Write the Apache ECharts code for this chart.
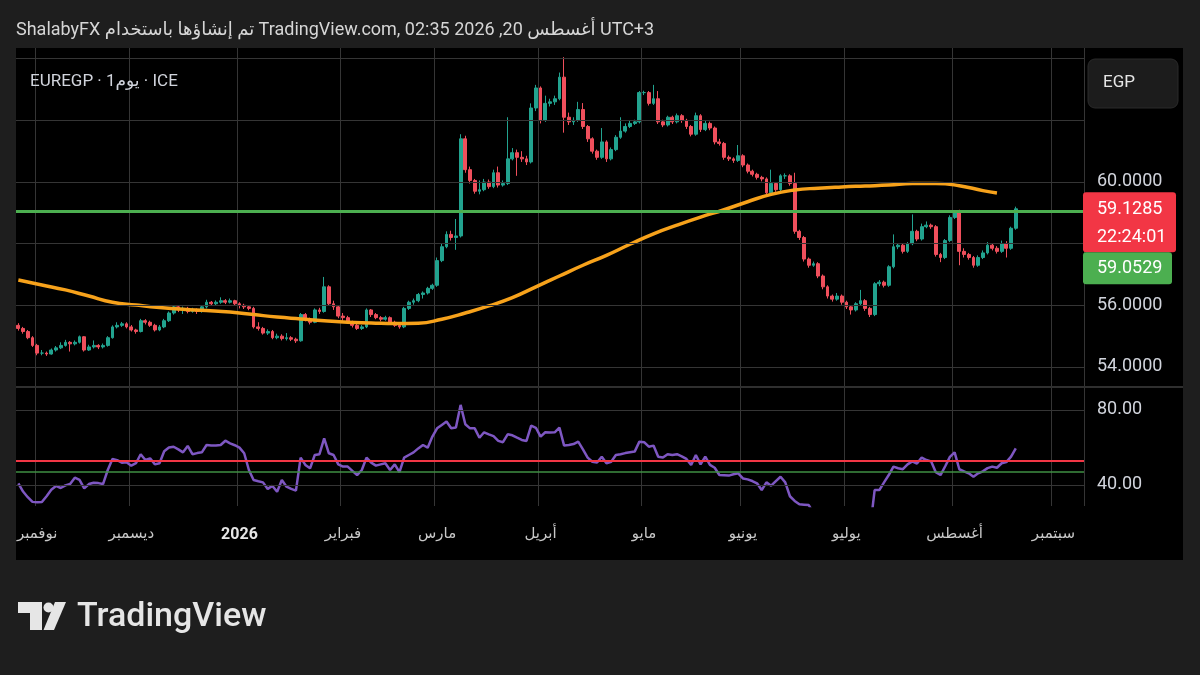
<!DOCTYPE html>
<html>
<head>
<meta charset="utf-8">
<script src="https://cdn.jsdelivr.net/npm/echarts@6/dist/echarts.min.js"></script>
<style>
html,body{margin:0;padding:0;background:#1e1e1e;}
#c{width:1200px;height:675px;}
</style>
</head>
<body>
<div id="c"></div>
<script>
// ---------- DATA ----------
const barCount = 213;      // bars with prices
const axisCount = 227;     // categories incl. empty future space
const categories = [];
(function () {
  const d = new Date(Date.UTC(2025, 9, 28));
  while (categories.length < axisCount) {
    const wd = d.getUTCDay();
    if (wd !== 0 && wd !== 6) categories.push(d.toISOString().slice(0, 10));
    d.setUTCDate(d.getUTCDate() + 1);
  }
})();

const opens = [
55.35,55.25,55.15,54.95,54.70,54.45,54.45,54.42,54.55,54.62,
54.70,54.80,54.75,54.80,54.98,54.55,54.65,54.70,54.65,54.70,
54.95,55.30,55.35,55.40,55.30,55.20,55.15,55.50,55.45,55.35,
55.20,55.30,55.50,55.75,55.95,55.85,55.90,55.80,55.85,55.80,
55.95,56.10,56.05,56.10,56.15,56.10,56.15,56.05,56.00,55.95,
55.90,55.30,55.25,55.10,55.15,54.95,55.00,54.92,54.95,54.90,
54.85,55.70,55.55,55.45,55.85,55.80,56.60,56.05,55.95,55.65,
55.60,55.45,55.35,55.25,55.30,55.85,55.70,55.60,55.55,55.60,
55.45,55.35,55.30,55.90,56.10,56.15,56.35,56.40,56.55,56.65,
57.45,57.90,58.30,58.20,58.25,61.40,60.40,60.05,59.70,59.75,
60.00,59.85,60.30,59.90,59.95,60.75,60.95,60.80,60.75,60.65,
62.40,63.05,62.00,62.55,62.60,62.70,63.40,62.10,61.95,62.00,
62.35,61.80,61.40,61.00,60.80,61.30,60.75,61.05,61.45,61.65,
61.80,61.90,61.95,62.90,62.90,62.55,62.70,61.95,61.85,62.10,
61.95,62.15,62.00,61.80,61.55,62.15,61.70,61.90,61.75,61.30,
61.25,60.80,60.75,60.70,60.85,60.55,60.35,60.25,60.15,60.10,
59.65,59.95,59.75,60.20,60.20,59.95,58.40,58.20,57.50,57.30,
57.35,56.95,56.60,56.30,56.20,56.30,56.10,55.95,55.85,56.05,
56.15,55.90,55.70,56.70,56.75,56.65,57.25,57.90,57.95,57.75,
58.00,58.40,58.15,58.55,58.60,58.55,57.65,57.55,58.10,58.85,
59.00,57.75,57.65,57.55,57.30,57.55,57.70,57.95,57.85,57.75,
58.00,57.85,58.50
];
const closes = [
55.25,55.15,54.95,54.70,54.45,54.45,54.42,54.55,54.62,54.70,
54.80,54.75,54.80,54.98,54.55,54.65,54.70,54.65,54.70,54.95,
55.30,55.35,55.40,55.30,55.20,55.15,55.50,55.45,55.35,55.20,
55.30,55.50,55.75,55.95,55.85,55.90,55.80,55.85,55.80,55.95,
56.10,56.05,56.10,56.15,56.10,56.15,56.05,56.00,55.95,55.90,
55.30,55.25,55.10,55.15,54.95,55.00,54.92,54.95,54.90,54.85,
55.70,55.55,55.45,55.85,55.80,56.60,56.05,55.95,55.65,55.60,
55.45,55.35,55.25,55.30,55.85,55.70,55.60,55.55,55.60,55.45,
55.35,55.30,55.90,56.10,56.15,56.35,56.40,56.55,56.65,57.45,
57.90,58.30,58.20,58.25,61.40,60.40,60.05,59.70,59.75,60.00,
59.85,60.30,59.90,59.95,60.75,60.95,60.80,60.75,60.65,62.40,
63.05,62.00,62.55,62.60,62.70,63.40,62.10,61.95,62.00,62.35,
61.80,61.40,61.00,60.80,61.30,60.75,61.05,61.45,61.65,61.80,
61.90,61.95,62.90,62.90,62.55,62.70,61.95,61.85,62.10,61.95,
62.15,62.00,61.80,61.55,62.15,61.70,61.90,61.75,61.30,61.25,
60.80,60.75,60.70,60.85,60.55,60.35,60.25,60.15,60.10,59.65,
59.95,59.75,60.20,60.20,59.95,58.40,58.20,57.50,57.30,57.35,
56.95,56.60,56.30,56.20,56.30,56.10,55.95,55.85,56.05,56.15,
55.90,55.70,56.70,56.75,56.65,57.25,57.90,57.95,57.75,58.00,
58.40,58.15,58.55,58.60,58.55,57.65,57.55,58.10,58.85,59.00,
57.75,57.65,57.55,57.30,57.55,57.70,57.95,57.85,57.75,58.00,
57.85,58.50,59.13
];
const lows = [
55.18,55.08,54.90,54.65,54.38,54.38,54.36,54.40,54.50,54.58,
54.66,54.50,54.70,54.76,54.50,54.52,54.60,54.58,54.60,54.66,
54.92,55.25,55.30,55.25,55.15,55.08,55.12,55.38,55.30,55.15,
55.16,55.26,55.46,55.70,55.78,55.72,55.74,55.76,55.72,55.76,
55.90,55.98,56.00,56.05,56.04,56.06,55.98,55.90,55.88,55.84,
55.25,55.18,55.05,55.04,54.90,54.90,54.86,54.86,54.84,54.78,
54.82,55.48,55.38,55.42,55.72,55.76,55.98,55.85,55.58,55.50,
55.40,55.28,55.20,55.20,55.26,55.62,55.55,55.48,55.50,55.40,
55.30,55.24,55.26,55.85,56.02,56.10,56.22,56.35,56.50,56.60,
57.40,57.85,58.10,57.80,58.20,60.30,59.95,59.62,59.60,59.70,
59.78,59.80,59.82,59.85,59.90,60.70,60.20,60.65,60.55,60.60,
62.30,61.90,61.95,62.45,62.50,62.65,61.60,61.85,61.85,61.95,
61.72,61.30,60.92,60.72,60.75,60.65,60.70,61.00,61.40,61.60,
61.75,61.85,61.90,62.82,62.48,62.50,61.88,61.78,61.80,61.88,
61.90,61.92,61.72,61.48,61.50,61.62,61.65,61.68,61.22,61.18,
60.72,60.68,60.62,60.65,60.48,60.28,60.18,60.08,60.02,59.58,
59.60,59.68,59.70,60.10,59.88,58.32,58.12,57.42,57.22,57.25,
56.88,56.52,56.22,56.12,56.15,56.02,55.88,55.70,55.80,56.00,
55.82,55.62,55.65,56.62,56.58,56.60,57.20,57.82,57.68,57.70,
57.95,58.08,58.10,58.50,58.48,57.58,57.40,57.50,58.05,58.80,
57.30,57.55,57.48,57.22,57.25,57.50,57.65,57.78,57.68,57.70,
57.55,57.80,58.45
];
const highs = [
55.42,55.30,55.20,55.00,54.75,54.55,54.50,54.60,54.68,54.80,
54.88,54.84,54.86,55.02,55.00,54.72,54.86,54.74,54.76,55.00,
55.35,55.45,55.46,55.45,55.36,55.24,55.56,55.55,55.50,55.40,
55.36,55.56,55.80,56.00,56.00,55.96,55.95,55.92,55.90,56.00,
56.18,56.14,56.16,56.26,56.20,56.22,56.18,56.10,56.05,56.00,
55.95,55.45,55.30,55.22,55.20,55.08,55.06,55.10,55.00,54.95,
55.75,55.75,55.60,55.90,55.92,56.92,56.65,56.15,55.98,55.75,
55.66,55.50,55.40,55.36,55.90,55.88,55.75,55.65,55.66,55.64,
55.50,55.40,55.95,56.15,56.22,56.40,56.45,56.60,56.70,57.55,
58.00,58.40,58.42,58.80,61.55,61.50,60.50,60.10,60.05,60.10,
60.08,60.40,60.50,60.05,62.10,61.10,61.05,61.00,60.85,62.55,
63.15,63.10,62.80,62.70,62.80,63.55,64.05,62.25,62.10,62.60,
62.56,61.85,61.45,61.05,61.75,61.35,61.12,61.52,62.10,61.90,
61.98,62.02,62.95,62.96,62.95,63.15,62.95,62.02,62.15,62.15,
62.22,62.20,62.05,61.85,62.25,62.20,61.98,61.96,61.80,61.40,
61.30,60.86,60.80,61.20,60.90,60.60,60.40,60.30,60.20,60.15,
60.40,60.00,60.25,60.28,60.25,60.30,58.45,58.25,57.55,57.42,
57.40,57.00,56.65,56.35,56.40,56.35,56.15,56.00,56.10,56.50,
56.20,55.95,56.75,56.82,56.80,57.30,58.30,58.02,58.00,58.05,
58.95,58.45,58.65,58.72,58.65,58.60,57.70,58.15,58.92,59.08,
59.10,57.85,57.70,57.60,57.62,57.78,58.05,58.00,57.92,58.10,
58.08,58.55,59.20
];

// moving average read at sample bars
const maIndex = [0,5,10,15,20,25,30,35,40,45,50,55,60,65,70,75,80,85,90,95,100,105,110,115,120,125,130,135,140,145,150,155,160,165,170,175,180,185,190,195,200,205,208];
const maValues = [56.82,56.66,56.5,56.3,56.1,56.01,55.93,55.87,55.83,55.78,55.7,55.62,55.56,55.5,55.45,55.43,55.41,55.42,55.55,55.75,55.98,56.25,56.6,56.95,57.3,57.62,57.98,58.32,58.6,58.86,59.1,59.36,59.6,59.74,59.8,59.84,59.87,59.9,59.95,59.95,59.88,59.72,59.64];

const rsiValues = [
40.9,36.5,33.5,31,30.8,30.9,34,37.5,39.5,38.4,
39.8,40.5,43.9,42.7,38.2,40.5,41.2,41,40.5,48,
53.9,53.2,51.9,52.1,50.3,51.6,56.4,53.3,54.2,51,
51.6,58,60,60.4,59,57.4,60.8,56.4,57,57.4,
61.3,61,61,61.3,63.6,62.2,61.2,59.9,56.9,48,
42.7,42,41.4,37.9,39.5,36.4,42.7,39.1,37.9,37,
54.6,50.7,48.9,56,56.4,64.9,56.9,56,51,49.8,
49.8,47.5,45.3,48,54.6,51.9,50.3,51,51.6,48,
51,46.8,54.6,56,57.4,59.5,61.3,59.9,65.8,70.2,
72,73.8,70.2,70.6,82.7,72.4,70.2,70.2,65.2,68.1,
67,66,63.5,62.8,67,66.5,65.2,64,63.5,71.6,
70.5,65.8,68.1,68,68.1,70.6,61,61.3,61.8,63.1,
59,54.6,52.4,52,55.1,51.6,52.4,56,56.4,57,
57.4,57.8,63.1,62.8,60.4,61,55.1,54.6,56.4,56,
56.4,55.3,53.9,50.7,56,51,55.1,50.7,49.2,45.3,
45.2,45,45.7,46.2,43.5,43,42.1,40.9,37.3,41.4,
39.6,42.1,44.4,41.4,34,31.5,29.7,29.5,29.3,25,
23,20,18,17,19,17,15.5,14.5,18,20,
18,16,37.3,37.3,41.4,45.3,49.8,48.9,48.4,51,
52.6,51.4,54.6,53.3,52.6,46.8,45.3,50,55,57.4,
48.4,47.3,46.2,44.4,46.2,47.3,49,49.8,49.2,51.6,
52.2,55.1,59.5
];

const priceGridValues = [54, 56, 58, 60, 62, 64];
const priceLabelValues = [54, 56, 60];
const rsiGridValues = [40, 80];
const rsiLevels = [53, 47];
const horizontalLevel = 59.0529;
const lastPrice = 59.1285;
const countdown = '22:24:01';
const monthNames = {'01':'2026','02':'فبراير','03':'مارس','04':'أبريل','05':'مايو','06':'يونيو','07':'يوليو','08':'أغسطس','09':'سبتمبر','10':'أكتوبر','11':'نوفمبر','12':'ديسمبر'};
const headerText = 'ShalabyFX تم إنشاؤها باستخدام TradingView.com, 02:35 2026 ,20 أغسطس UTC+3';
const symbolText = 'EUREGP · 1يوم · ICE';

// ---------- CHART ----------
const FONT = 'Roboto, "DejaVu Sans", "Noto Sans", sans-serif';
const GRID = '#353535';
const TXT = '#d1d4dc';
const UP = '#22a38f';
const DOWN = '#ef4f5c';

function isMonthStart(i) {
  return i > 0 && categories[i].slice(0, 7) !== categories[i - 1].slice(0, 7);
}

const candleData = [];
for (let i = 0; i < barCount; i++) candleData.push([opens[i], closes[i], lows[i], highs[i]]);
const maData = maIndex.map((idx, k) => [idx, maValues[k]]);

const chart = echarts.init(document.getElementById('c'), null, {renderer: 'canvas', width: 1200, height: 675});

function baseGraphic() {
  return [
    {id: 'panel', type: 'rect', z: -10, silent: true, shape: {x: 16, y: 48, width: 1167, height: 512}, style: {fill: '#000000'}},
    {id: 'sep', type: 'line', z: 5, silent: true, shape: {x1: 16, y1: 387, x2: 1183, y2: 387}, style: {stroke: '#2f2f2f', lineWidth: 2}},
    {id: 'header', type: 'text', x: 16, y: 30, style: {text: headerText, fill: '#d6d6d6', font: '18px ' + FONT, verticalAlign: 'middle'}},
    {id: 'symbol', type: 'text', x: 30, y: 82, z: 20, style: {text: symbolText, fill: TXT, font: '17px ' + FONT, verticalAlign: 'middle'}},
    {id: 'egpbox', type: 'rect', z: 20, shape: {x: 1088, y: 59, width: 90, height: 49, r: 7}, style: {fill: '#1c1c1c', stroke: '#2a2a2a', lineWidth: 1}},
    {id: 'egptxt', type: 'text', z: 21, x: 1103, y: 83, style: {text: 'EGP', fill: '#e6e6e6', font: '17px ' + FONT, verticalAlign: 'middle'}},
    {id: 'logoT', type: 'polygon', shape: {points: [[18, 602], [42, 602], [42, 630], [30, 630], [30, 613], [18, 613]]}, style: {fill: '#e6e6e6'}},
    {id: 'logoDot', type: 'circle', shape: {cx: 48.5, cy: 607.5, r: 5}, style: {fill: '#e6e6e6'}},
    {id: 'logoV', type: 'polygon', shape: {points: [[55, 602], [66, 602], [54, 630], [43.5, 630]]}, style: {fill: '#e6e6e6'}},
    {id: 'logoTxt', type: 'text', x: 77, y: 617, style: {text: 'TradingView', fill: '#e6e6e6', font: '500 34px ' + FONT, verticalAlign: 'middle'}}
  ];
}

const option = {
  backgroundColor: '#1e1e1e',
  animation: false,
  graphic: baseGraphic(),
  grid: [
    {left: 16, right: 116, top: 48, height: 338},
    {left: 16, right: 116, top: 388, height: 118}
  ],
  xAxis: [
    {type: 'category', gridIndex: 0, data: categories, boundaryGap: true,
     axisLine: {show: false}, axisTick: {show: false}, axisLabel: {show: false},
     splitLine: {show: true, interval: (i) => isMonthStart(i), lineStyle: {color: GRID, width: 1}}},
    {type: 'category', gridIndex: 1, data: categories, boundaryGap: true,
     axisLine: {show: false}, axisTick: {show: false},
     axisLabel: {show: true, interval: (i) => isMonthStart(i), margin: 21,
       color: '#c8c8c8', fontSize: 15, fontFamily: FONT,
       formatter: (v) => { const m = v.slice(5, 7); return m === '01' ? '{y|' + monthNames[m] + '}' : monthNames[m]; },
       rich: {y: {fontWeight: 'bold', color: '#e6e6e6', fontSize: 16, fontFamily: FONT}}},
     splitLine: {show: true, interval: (i) => isMonthStart(i), lineStyle: {color: GRID, width: 1}}}
  ],
  yAxis: [
    {type: 'value', gridIndex: 0, position: 'right', min: 53.383, max: 64.346, scale: true,
     axisLine: {show: false}, axisTick: {show: false}, splitLine: {show: false},
     axisLabel: {customValues: priceLabelValues, formatter: (v) => v.toFixed(4), margin: 13, color: TXT, fontSize: 18, fontFamily: FONT}},
    {type: 'value', gridIndex: 1, position: 'right', min: 28.8, max: 91.7, scale: true,
     axisLine: {show: false}, axisTick: {show: false}, splitLine: {show: false},
     axisLabel: {customValues: rsiGridValues, formatter: (v) => v.toFixed(2), margin: 13, color: TXT, fontSize: 18, fontFamily: FONT}}
  ],
  series: [
    {type: 'line', name: 'priceGrid', xAxisIndex: 0, yAxisIndex: 0, data: [], z: 1, silent: true,
     markLine: {silent: true, symbol: 'none', label: {show: false}, animation: false,
       lineStyle: {color: GRID, type: 'solid', width: 1},
       data: priceGridValues.map(v => ({yAxis: v}))}},
    {type: 'candlestick', name: 'EUREGP', xAxisIndex: 0, yAxisIndex: 0, data: candleData, z: 3,
     barWidth: '70%',
     itemStyle: {color: UP, color0: DOWN, borderColor: UP, borderColor0: DOWN, borderWidth: 1},
     markLine: {silent: true, symbol: 'none', label: {show: false}, animation: false,
       data: [{yAxis: horizontalLevel, lineStyle: {color: '#4caf50', type: 'solid', width: 3}}]}},
    {type: 'line', name: 'MA', xAxisIndex: 0, yAxisIndex: 0, data: maData, z: 4,
     smooth: 0.5, symbol: 'none', lineStyle: {color: '#f7a21b', width: 3.5}},
    {type: 'line', name: 'rsiGrid', xAxisIndex: 1, yAxisIndex: 1, data: [], z: 1, silent: true,
     markLine: {silent: true, symbol: 'none', label: {show: false}, animation: false,
       data: [
         {yAxis: rsiGridValues[0], lineStyle: {color: GRID, type: 'solid', width: 1}},
         {yAxis: rsiGridValues[1], lineStyle: {color: GRID, type: 'solid', width: 1}},
         {yAxis: rsiLevels[0], lineStyle: {color: '#f23645', type: 'solid', width: 2}},
         {yAxis: rsiLevels[1], lineStyle: {color: '#3f8f43', type: 'solid', width: 1.5}}
       ]}},
    {type: 'line', name: 'RSI', xAxisIndex: 1, yAxisIndex: 1, data: rsiValues, z: 4,
     symbol: 'none', lineStyle: {color: '#7e57c2', width: 2.5}}
  ]
};
chart.setOption(option);

// price labels on the price scale, placed through the axis
const yLast = chart.convertToPixel({yAxisIndex: 0}, lastPrice);
const labels = [
  {id: 'redBox', type: 'rect', z: 30, shape: {x: 1083, y: yLast - 16.5, width: 93, height: 60, r: 3}, style: {fill: '#f23645'}},
  {id: 'redTxt1', type: 'text', z: 31, x: 1097, y: yLast + 1, style: {text: lastPrice.toFixed(4), fill: '#ffffff', font: '18px ' + FONT, verticalAlign: 'middle'}},
  {id: 'redTxt2', type: 'text', z: 31, x: 1097, y: yLast + 29, style: {text: countdown, fill: '#ffffff', font: '18px ' + FONT, verticalAlign: 'middle'}},
  {id: 'greenBox', type: 'rect', z: 30, shape: {x: 1083, y: yLast + 43.5, width: 89, height: 32, r: 3}, style: {fill: '#4caf50'}},
  {id: 'greenTxt', type: 'text', z: 31, x: 1097, y: yLast + 60, style: {text: horizontalLevel.toFixed(4), fill: '#ffffff', font: '18px ' + FONT, verticalAlign: 'middle'}}
];
chart.setOption({graphic: baseGraphic().concat(labels)});
</script>
</body>
</html>
